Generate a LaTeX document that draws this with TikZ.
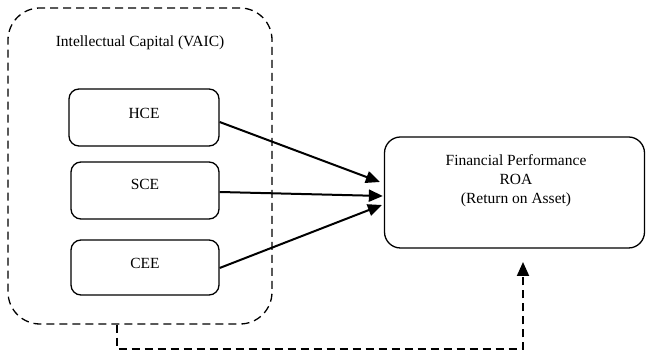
\documentclass[tikz,border=0pt]{standalone}
\usepackage{fontspec}
\setmainfont{Liberation Serif}
\usetikzlibrary{arrows.meta,calc}
\begin{document}
\begin{tikzpicture}[x=1pt,y=1pt,
  every node/.style={font=\fontsize{15.5}{19}\selectfont},
  box/.style={draw,line width=1.3pt,rounded corners=10pt,inner sep=0pt},
  outerbox/.style={draw,line width=1.3pt,dash pattern=on 8pt off 5pt,rounded corners=32pt,inner sep=0pt},
  arr/.style={line width=2pt,-{Triangle[length=14pt,width=12pt]}},
  darr/.style={line width=2pt,dash pattern=on 8pt off 5pt,-{Triangle[length=14pt,width=12pt]}}]
\useasboundingbox (0,0) rectangle (646,361);
\node[outerbox,minimum width=264pt,minimum height=316pt] (outer) at (140,195) {};
\node (title) at (140,318) {Intellectual Capital (VAIC)};
\node[box,minimum width=150pt,minimum height=57pt] (hce) at (144,243.5) {};
\node (hcet) at (144,248) {HCE};
\node[box,minimum width=148pt,minimum height=57pt] (sce) at (145,170.5) {};
\node (scet) at (145,177) {SCE};
\node[box,minimum width=148pt,minimum height=55pt] (cee) at (145,93.5) {};
\node (ceet) at (145,98) {CEE};
\node[box,rounded corners=16pt,minimum width=260pt,minimum height=111pt] (fin) at (514.5,168.5) {};
\node[align=center] (fint) at (516,180) {Financial Performance\\ROA\\(Return on Asset)};
\draw[arr] (hce.east |- 0,239) -- ($(fin.west)+(-4,10.5)$);
\draw[arr] (sce.east |- 0,169) -- ($(fin.west)+(-1,-3.5)$);
\draw[arr] (cee.east |- 0,93) -- ($(fin.west)+(-2,-12.5)$);
\coordinate (c1) at (117,12);
\coordinate (c2) at (523,12);
\coordinate (c3) at (523,99);
\draw[darr] (outer.south -| c1) -- (c1) -- (c2) -- (c3);
\end{tikzpicture}
\end{document}
